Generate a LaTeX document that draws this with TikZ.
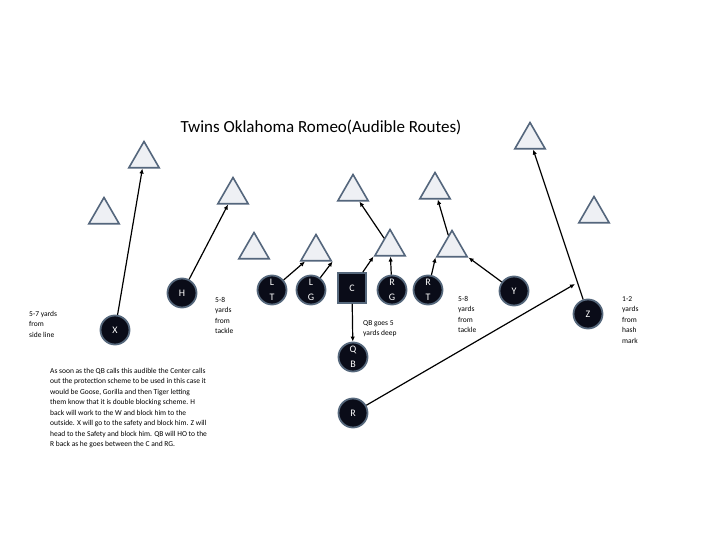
\documentclass[tikz,border=0pt]{standalone}
\usepackage{fontspec}
\setmainfont{Carlito}
\usepackage{tikz}
\usetikzlibrary{shapes.geometric, arrows.meta, positioning}
\definecolor{plyfill}{RGB}{10,12,24}
\definecolor{plyline}{RGB}{86,104,124}
\definecolor{deffill}{RGB}{238,240,244}
\definecolor{defline}{RGB}{84,102,124}

\begin{document}
\begin{tikzpicture}[x=1pt, y=-1pt,
  defnode/.style  = {regular polygon, regular polygon sides=3, minimum size=35pt,
                  inner sep=0pt, fill=deffill, draw=defline, line width=1.6pt},
  plynode/.style  = {circle, minimum size=29pt, inner sep=0pt, fill=plyfill,
                  draw=plyline, line width=1.8pt, align=center, text=white,
                  font=\fontsize{10}{15}\selectfont},
  ctrnode/.style  = {rectangle, minimum width=28pt, minimum height=30pt, inner sep=0pt,
                  fill=plyfill, draw=plyline, line width=1.8pt, text=white,
                  font=\fontsize{10}{15}\selectfont},
  note/.style     = {anchor=north west, align=left, inner sep=0pt,
                  font=\fontsize{7.5}{10.5}\selectfont},
  arr/.style      = {-{Latex[length=5pt,width=4.5pt]}, line width=1.2pt, color=black},
]
\useasboundingbox (0,0) rectangle (720,540);

%% Title
\node[font=\fontsize{17}{20}\selectfont] (title) at (321,127) {Twins Oklahoma Romeo(Audible Routes)};

%% Defense (triangles)
\node[defnode] (t1)  at (144,159) {};
\node[defnode] (t2)  at (104,215) {};
\node[defnode] (t3)  at (233,195) {};
\node[defnode] (t4)  at (254,250) {};
\node[defnode] (t5)  at (316,252) {};
\node[defnode] (t6)  at (353,192) {};
\node[defnode] (t7)  at (390,247) {};
\node[defnode] (t8)  at (435,190) {};
\node[defnode] (t9)  at (452,248) {};
\node[defnode] (t10) at (530,140) {};
\node[defnode] (t11) at (594,214) {};

%% Offense
\node[plynode] (x)  at (115,330) {X};
\node[plynode] (h)  at (182,293) {H};
\node[plynode] (lt) at (272,290) {L\\T};
\node[plynode] (lg) at (311,290) {L\\G};
\node[ctrnode] (c)  at (352,288) {C};
\node[plynode] (rg) at (392,290) {R\\G};
\node[plynode] (rt) at (428,290) {R\\T};
\node[plynode] (qb) at (353,357) {Q\\B};
\node[plynode] (r)  at (353,413) {R};
\node[plynode] (y)  at (514,291) {Y};
\node[plynode] (z)  at (588,314) {Z};

%% Notes
\node[note] (n1) at (29,311)  {5-7 yards\\from\\side line};
\node[note] (n2) at (215,297) {5-8\\yards\\from\\tackle};
\node[note] (n3) at (363,320) {QB goes 5\\yards deep};
\node[note] (n4) at (458,296) {5-8\\yards\\from\\tackle};
\node[note] (n5) at (622,296) {1-2\\yards\\from\\hash\\mark};
\node[note] (n6) at (50,368)  {As soon as the QB calls this audible the Center calls\\
  out the protection scheme to be used in this case it\\
  would be Goose, Gorilla and then Tiger letting\\
  them know that it is double blocking scheme. H\\
  back will work to the W and block him to the\\
  outside. X will go to the safety and block him. Z will\\
  head to the Safety and block him. QB will HO to the\\
  R back as he goes between the C and RG.};

%% Routes and blocks
\coordinate (rend) at (575,284);
\foreach \a/\b in {x/t1, h/t3, lt/t5, lg/t5.corner 3, c/t7.corner 2, rg/t7,
                   t7/t6, rt/t9.corner 2, t9/t8, y/t9.corner 3, z/t10, c/qb, r/rend} {
  \draw[arr] (\a) -- (\b);
}

\end{tikzpicture}
\end{document}
